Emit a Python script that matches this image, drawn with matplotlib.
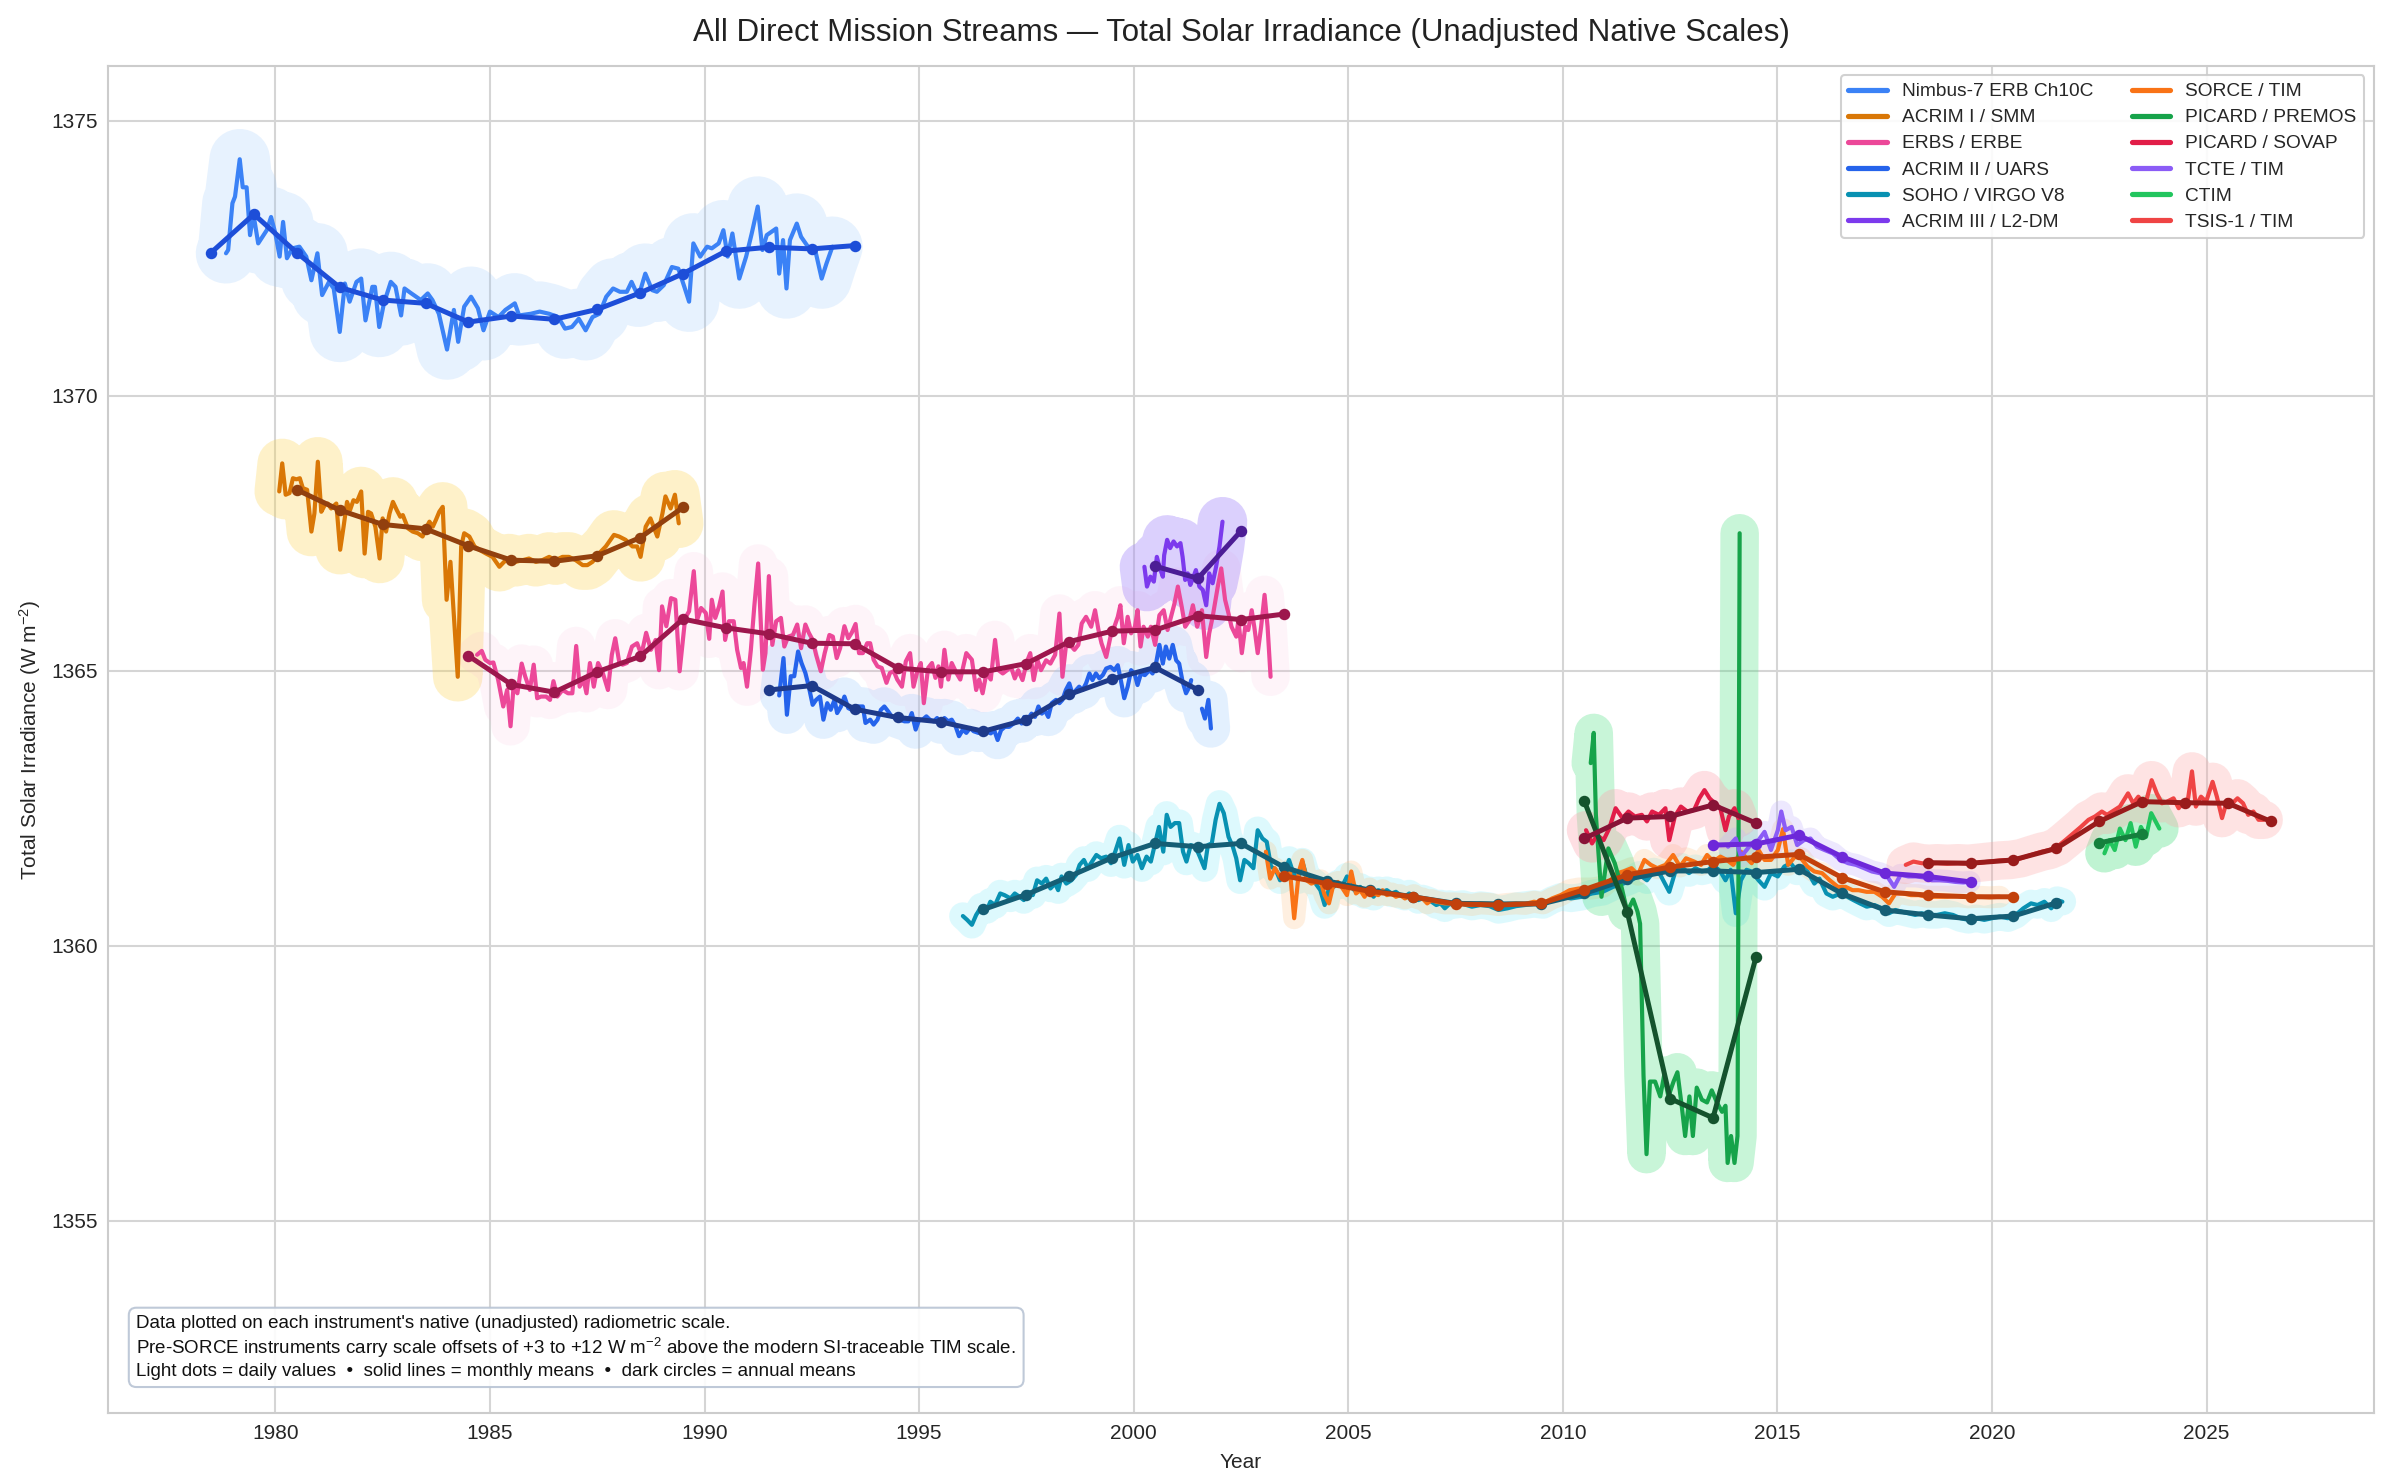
import matplotlib
matplotlib.use("Agg")
import numpy as np
import matplotlib.pyplot as plt
from matplotlib.lines import Line2D
import seaborn as sns

sns.set_style("whitegrid")
plt.rcParams['font.family'] = ['Liberation Sans', 'DejaVu Sans']
plt.rcParams['mathtext.fontset'] = 'custom'
plt.rcParams['mathtext.rm'] = 'Liberation Sans'
plt.rcParams['mathtext.it'] = 'Liberation Sans:italic'

# ---------------- data ----------------
names = ["Nimbus-7 ERB Ch10C", "ACRIM I / SMM", "ERBS / ERBE", "ACRIM II / UARS",
         "SOHO / VIRGO V8", "ACRIM III / L2-DM", "SORCE / TIM", "PICARD / PREMOS",
         "PICARD / SOVAP", "TCTE / TIM", "CTIM", "TSIS-1 / TIM"]

nimbus_m_yr = [1978.85,1978.90,1979.00,1979.06,1979.17,1979.24,1979.33,1979.41,1979.49,1979.60,
               1979.70,1979.80,1979.90,1980.00,1980.10,1980.18,1980.27,1980.40,1980.56,1980.72,
               1980.84,1980.98,1981.09,1981.25,1981.36,1981.50,1981.62,1981.73,1981.89,1982.00,
               1982.10,1982.26,1982.32,1982.42,1982.53,1982.69,1982.80,1982.93,1983.01,1983.17,
               1983.28,1983.39,1983.55,1983.66,1983.81,1984.00,1984.16,1984.26,1984.40,1984.56,
               1984.72,1984.85,1985.00,1985.20,1985.36,1985.58,1985.68,1985.95,1986.16,1986.38,
               1986.59,1986.75,1986.91,1987.07,1987.23,1987.39,1987.55,1987.71,1987.87,1988.03,
               1988.19,1988.30,1988.46,1988.62,1988.78,1988.89,1989.05,1989.24,1989.39,1989.53,
               1989.64,1989.74,1989.90,1990.06,1990.17,1990.33,1990.44,1990.54,1990.65,1990.81,
               1990.97,1991.10,1991.24,1991.35,1991.45,1991.67,1991.74,1991.83,1991.91,1991.99,
               1992.15,1992.25,1992.41,1992.57,1992.73,1992.84,1992.98]
nimbus_m_val = [1372.59,1372.65,1373.50,1373.62,1374.30,1373.79,1373.79,1372.92,1373.30,1372.77,
                1372.89,1373.01,1373.25,1372.95,1372.53,1373.16,1372.50,1372.68,1372.71,1372.53,
                1372.10,1372.59,1371.83,1372.07,1371.95,1371.16,1372.04,1371.71,1372.07,1372.13,
                1371.37,1371.98,1371.98,1371.25,1371.68,1372.07,1371.98,1371.46,1371.95,1371.86,
                1371.80,1371.74,1371.86,1371.74,1371.49,1370.84,1371.56,1370.98,1371.62,1371.80,
                1371.59,1371.19,1371.53,1371.43,1371.56,1371.68,1371.46,1371.49,1371.53,1371.49,
                1371.43,1371.22,1371.25,1371.40,1371.19,1371.43,1371.49,1371.80,1371.95,1371.89,
                1371.89,1372.07,1371.80,1372.22,1371.92,1371.89,1372.01,1372.34,1372.31,1371.98,
                1371.71,1372.77,1372.53,1372.71,1372.68,1372.77,1373.01,1372.53,1372.95,1372.13,
                1372.53,1372.95,1373.44,1372.65,1372.92,1373.04,1372.22,1372.83,1371.95,1372.83,
                1373.13,1372.89,1372.71,1372.68,1372.13,1372.40,1372.71]
nimbus_a_yr = [1978.5,1979.5,1980.5,1981.5,1982.5,1983.5,1984.5,1985.5,1986.5,1987.5,
               1988.5,1989.5,1990.5,1991.5,1992.5,1993.5]
nimbus_a_val = [1372.60,1373.30,1372.60,1371.97,1371.74,1371.68,1371.34,1371.45,1371.39,1371.57,
                1371.87,1372.22,1372.63,1372.70,1372.67,1372.73]

acrim1_m_yr = [1980.09,1980.16,1980.24,1980.33,1980.41,1980.49,1980.57,1980.64,1980.74,1980.84,
               1980.91,1980.99,1981.07,1981.15,1981.22,1981.30,1981.42,1981.51,1981.59,1981.67,
               1981.74,1981.82,1981.90,1982.00,1982.08,1982.16,1982.23,1982.33,1982.43,1982.50,
               1982.58,1982.66,1982.74,1982.83,1982.91,1982.97,1983.09,1983.20,1983.32,1983.43,
               1983.51,1983.59,1983.67,1983.74,1983.82,1983.90,1983.99,1984.08,1984.25,1984.33,
               1984.40,1984.52,1984.64,1984.75,1984.91,1985.06,1985.22,1985.33,1985.45,1985.60,
               1985.76,1985.91,1986.07,1986.22,1986.38,1986.53,1986.69,1986.84,1987.00,1987.16,
               1987.27,1987.39,1987.54,1987.70,1987.89,1988.01,1988.16,1988.32,1988.43,1988.51,
               1988.63,1988.74,1988.90,1989.02,1989.09,1989.21,1989.31,1989.40]
acrim1_m_val = [1368.26,1368.77,1368.20,1368.23,1368.50,1368.48,1368.50,1368.32,1368.29,1367.53,
                1367.86,1368.80,1367.89,1368.01,1368.04,1367.95,1368.04,1367.20,1367.62,1368.07,
                1367.92,1368.10,1368.07,1368.26,1367.13,1367.89,1367.86,1367.62,1367.04,1367.77,
                1367.53,1367.86,1368.07,1367.92,1367.80,1367.83,1367.59,1367.53,1367.50,1367.44,
                1367.59,1367.71,1367.62,1367.74,1367.89,1367.98,1366.29,1366.98,1364.89,1367.26,
                1367.50,1367.44,1367.26,1367.20,1367.13,1367.07,1366.89,1366.98,1367.04,1366.98,
                1367.01,1367.04,1366.98,1367.01,1367.07,1367.01,1367.07,1367.07,1367.01,1366.92,
                1366.92,1366.98,1367.13,1367.26,1367.47,1367.44,1367.38,1367.26,1367.26,1367.07,
                1367.62,1367.77,1367.44,1367.86,1368.17,1367.95,1368.20,1367.68]
acrim1_a_yr = [1980.5,1981.5,1982.5,1983.5,1984.5,1985.5,1986.5,1987.5,1988.5,1989.5]
acrim1_a_val = [1368.29,1367.92,1367.66,1367.58,1367.27,1367.01,1366.99,1367.09,1367.42,1367.97]

erbs_m_yr = [1984.70,1984.81,1984.89,1985.00,1985.08,1985.19,1985.31,1985.40,1985.48,1985.55,
             1985.64,1985.74,1985.82,1985.93,1986.02,1986.10,1986.19,1986.31,1986.40,1986.48,
             1986.57,1986.69,1986.82,1986.92,1987.01,1987.09,1987.18,1987.25,1987.33,1987.42,
             1987.52,1987.63,1987.75,1987.84,1987.92,1988.01,1988.09,1988.19,1988.31,1988.43,
             1988.53,1988.64,1988.75,1988.86,1988.94,1989.01,1989.11,1989.22,1989.32,1989.42,
             1989.55,1989.64,1989.75,1989.83,1989.92,1990.03,1990.11,1990.17,1990.25,1990.34,
             1990.42,1990.48,1990.57,1990.68,1990.76,1990.85,1990.91,1990.99,1991.08,1991.16,
             1991.25,1991.36,1991.42,1991.50,1991.58,1991.67,1991.78,1991.86,1991.95,1992.06,
             1992.16,1992.25,1992.35,1992.43,1992.52,1992.60,1992.71,1992.80,1992.91,1992.99,
             1993.08,1993.16,1993.26,1993.35,1993.43,1993.52,1993.60,1993.69,1993.79,1993.86,
             1993.94,1994.03,1994.13,1994.24,1994.32,1994.41,1994.49,1994.60,1994.69,1994.79,
             1994.87,1994.96,1995.04,1995.11,1995.21,1995.30,1995.38,1995.45,1995.51,1995.59,
             1995.68,1995.76,1995.87,1995.96,1996.10,1996.23,1996.33,1996.40,1996.48,1996.57,
             1996.67,1996.77,1996.85,1996.95,1997.05,1997.14,1997.23,1997.31,1997.41,1997.51,
             1997.59,1997.67,1997.76,1997.84,1997.96,1998.06,1998.17,1998.27,1998.34,1998.42,
             1998.52,1998.62,1998.71,1998.79,1998.89,1999.01,1999.10,1999.18,1999.25,1999.36,
             1999.46,1999.55,1999.63,1999.69,1999.77,1999.86,1999.94,2000.03,2000.09,2000.16,
             2000.23,2000.33,2000.40,2000.50,2000.60,2000.70,2000.79,2000.87,2000.95,2001.03,
             2001.12,2001.20,2001.30,2001.38,2001.48,2001.59,2001.69,2001.76,2001.84,2001.96,
             2002.04,2002.13,2002.21,2002.28,2002.39,2002.44,2002.52,2002.60,2002.67,2002.75,
             2002.81,2002.89,2002.97,2003.05,2003.12,2003.19]
erbs_m_val = [1365.29,1365.36,1365.20,1365.14,1365.15,1364.84,1364.35,1364.65,1363.99,1364.71,
              1364.59,1365.13,1364.90,1364.65,1365.11,1364.50,1364.53,1364.53,1364.47,1364.81,
              1364.53,1364.65,1364.59,1364.59,1365.45,1364.71,1364.84,1364.59,1365.14,1364.71,
              1365.14,1364.96,1364.65,1365.29,1365.59,1365.17,1365.11,1365.14,1365.44,1365.50,
              1365.29,1365.69,1365.38,1365.56,1365.01,1366.17,1365.81,1366.32,1366.29,1364.99,
              1365.96,1366.08,1366.81,1365.93,1366.14,1366.05,1365.58,1366.29,1365.96,1366.17,
              1366.44,1365.56,1365.90,1365.90,1365.38,1365.05,1365.14,1364.71,1365.38,1366.17,
              1366.95,1365.02,1365.32,1366.72,1365.47,1365.90,1365.96,1365.44,1365.62,1365.65,
              1365.84,1365.41,1365.84,1365.69,1365.56,1365.29,1364.99,1365.32,1365.65,1365.62,
              1365.23,1365.41,1365.81,1365.59,1365.69,1365.85,1365.32,1365.32,1365.50,1365.50,
              1365.20,1365.08,1365.05,1364.78,1364.96,1364.99,1364.84,1364.71,1365.17,1365.32,
              1364.71,1364.99,1365.14,1364.41,1365.05,1365.14,1364.87,1365.08,1364.71,1365.38,
              1364.84,1365.14,1364.96,1364.84,1365.32,1365.20,1364.65,1364.84,1364.59,1364.96,
              1364.84,1365.56,1365.01,1364.95,1365.01,1365.07,1364.86,1365.01,1364.83,1365.16,
              1365.32,1364.83,1365.19,1365.01,1365.19,1365.13,1365.29,1366.04,1364.89,1365.44,
              1365.47,1365.38,1365.47,1365.86,1365.98,1365.80,1366.10,1365.74,1365.50,1365.25,
              1365.62,1365.80,1365.98,1366.19,1365.50,1365.98,1365.68,1365.80,1366.10,1365.44,
              1365.80,1365.62,1365.80,1365.47,1366.01,1366.10,1365.74,1365.98,1366.22,1366.53,
              1366.16,1365.80,1365.92,1366.19,1365.80,1366.10,1365.25,1365.68,1365.98,1366.53,
              1366.86,1366.29,1366.04,1365.80,1365.62,1365.92,1365.32,1365.80,1365.74,1366.10,
              1365.80,1365.32,1365.80,1366.38,1365.80,1364.89]
erbs_a_yr = [1984.5,1985.5,1986.5,1987.5,1988.5,1989.5,1990.5,1991.5,1992.5,1993.5,
             1994.5,1995.5,1996.5,1997.5,1998.5,1999.5,2000.5,2001.5,2002.5,2003.5]
erbs_a_val = [1365.27,1364.75,1364.61,1364.98,1365.26,1365.94,1365.78,1365.67,1365.50,1365.49,
              1365.05,1364.98,1364.98,1365.13,1365.53,1365.72,1365.74,1366.00,1365.93,1366.03]

acrim2_m_yr = [1991.74,1991.84,1991.92,1992.01,1992.09,1992.18,1992.26,1992.35,1992.43,1992.52,
               1992.60,1992.69,1992.77,1992.86,1992.94,1993.03,1993.09,1993.18,1993.26,1993.35,
               1993.43,1993.52,1993.60,1993.69,1993.75,1993.86,1993.94,1994.03,1994.11,1994.19,
               1994.28,1994.36,1994.45,1994.55,1994.66,1994.75,1994.83,1994.92,1995.00,1995.08,
               1995.17,1995.25,1995.34,1995.42,1995.51,1995.59,1995.68,1995.76,1995.85,1995.93,
               1996.02,1996.10,1996.19,1996.27,1996.38,1996.48,1996.57,1996.67,1996.75,1996.83,
               1996.91,1997.00,1997.10,1997.20,1997.30,1997.39,1997.45,1997.54,1997.62,1997.70,
               1997.78,1997.86,1997.93,1998.01,1998.09,1998.19,1998.27,1998.34,1998.42,1998.50,
               1998.58,1998.66,1998.73,1998.81,1998.89,1998.97,1999.04,1999.12,1999.20,1999.28,
               1999.36,1999.46,1999.55,1999.63,1999.70,1999.78,1999.86,1999.94,2000.02,2000.09,
               2000.17,2000.26,2000.37,2000.44,2000.52,2000.60,2000.68,2000.75,2000.83,2000.91,
               2000.99,2001.06,2001.14,2001.22,2001.30,2001.34,2001.45,2001.59,2001.66,2001.74,
               2001.80]
acrim2_m_val = [1364.55,1365.23,1364.20,1364.90,1364.90,1365.35,1365.14,1364.96,1364.71,1364.38,
                1364.47,1364.53,1364.11,1364.41,1364.29,1364.47,1364.23,1364.35,1364.53,1364.32,
                1364.29,1364.35,1364.35,1364.35,1364.05,1364.11,1364.02,1364.11,1364.29,1364.35,
                1364.26,1364.17,1364.14,1364.11,1364.08,1364.08,1364.23,1363.93,1364.11,1364.11,
                1364.17,1364.11,1364.08,1364.14,1364.02,1364.14,1364.08,1364.11,1363.99,1363.81,
                1363.93,1363.87,1363.96,1363.90,1363.87,1363.90,1363.90,1363.86,1363.92,1363.74,
                1363.92,1363.98,1363.98,1364.04,1364.13,1364.04,1364.16,1364.13,1364.22,1364.16,
                1364.35,1364.22,1364.28,1364.16,1364.41,1364.47,1364.41,1364.47,1364.65,1364.77,
                1364.56,1364.65,1364.71,1364.65,1364.77,1364.95,1364.83,1364.95,1364.86,1364.92,
                1365.04,1365.07,1365.01,1365.10,1364.83,1364.50,1364.71,1365.01,1364.95,1364.74,
                1364.95,1364.92,1365.01,1364.95,1365.13,1365.47,1365.13,1365.44,1365.22,1365.47,
                1365.19,1365.13,1364.80,1364.59,1364.71,1364.83,np.nan,1364.31,1364.13,1364.47,
                1363.95]
acrim2_a_yr = [1991.5,1992.5,1993.5,1994.5,1995.5,1996.5,1997.5,1998.5,1999.5,2000.5,2001.5]
acrim2_a_val = [1364.65,1364.73,1364.30,1364.15,1364.07,1363.90,1364.11,1364.57,1364.85,1365.06,1364.65]

soho_m_yr = [1996.02,1996.12,1996.23,1996.33,1996.45,1996.58,1996.66,1996.77,1996.89,1996.99,
             1997.13,1997.23,1997.34,1997.44,1997.54,1997.65,1997.75,1997.86,1997.96,1998.06,
             1998.17,1998.24,1998.32,1998.43,1998.55,1998.66,1998.74,1998.84,1998.93,1999.03,
             1999.13,1999.24,1999.36,1999.47,1999.57,1999.67,1999.78,1999.88,1999.98,2000.09,
             2000.19,2000.30,2000.40,2000.50,2000.59,2000.69,2000.77,2000.86,2000.96,2001.06,
             2001.15,2001.23,2001.33,2001.44,2001.54,2001.65,2001.73,2001.82,2001.91,2002.00,
             2002.10,2002.21,2002.31,2002.39,2002.48,2002.58,2002.68,2002.79,2002.89,2003.00,
             2003.10,2003.20,2003.31,2003.41,2003.52,2003.62,2003.72,2003.83,2003.93,2004.03,
             2004.14,2004.24,2004.35,2004.45,2004.55,2004.66,2004.76,2004.87,2004.97,2005.07,
             2005.18,2005.28,2005.38,2005.49,2005.59,2005.70,2005.80,2005.90,2006.01,2006.11,
             2006.21,2006.32,2006.42,2006.53,2006.63,2006.73,2006.84,2006.94,2007.05,2007.15,
             2007.25,2007.36,2007.46,2007.67,2007.88,2008.08,2008.29,2008.50,2008.71,2008.91,
             2009.12,2009.33,2009.54,2009.75,2009.95,2010.19,2010.44,2010.68,2010.93,2011.17,
             2011.41,2011.60,2011.78,2011.96,2012.12,2012.27,2012.48,2012.61,2012.75,2012.94,
             2013.09,2013.24,2013.39,2013.51,2013.67,2013.79,2013.91,2014.03,2014.15,2014.28,
             2014.40,2014.56,2014.70,2014.85,2015.01,2015.16,2015.31,2015.46,2015.58,2015.70,
             2015.86,2015.98,2016.14,2016.29,2016.47,2016.63,2016.77,2016.92,2017.08,2017.26,
             2017.44,2017.60,2017.75,2017.89,2018.05,2018.21,2018.36,2018.54,2018.72,2018.90,
             2019.09,2019.27,2019.45,2019.63,2019.82,2020.00,2020.18,2020.37,2020.55,2020.73,
             2020.91,2021.06,2021.22,2021.38,2021.52,2021.64]
soho_m_val = [1360.54,1360.47,1360.38,1360.56,1360.71,1360.65,1360.80,1360.74,1360.95,1360.92,
              1360.86,1360.95,1360.89,1360.83,1360.98,1360.92,1361.19,1361.13,1361.22,1361.04,
              1361.13,1361.01,1361.26,1361.13,1361.19,1361.29,1361.47,1361.56,1361.41,1361.53,
              1361.65,1361.59,1361.62,1361.50,1361.71,1361.95,1361.47,1361.83,1361.53,1361.65,
              1361.41,1361.62,1361.53,1361.86,1362.16,1361.71,1362.38,1362.16,1362.23,1362.23,
              1361.71,1361.53,1361.83,1361.80,1361.62,1361.41,1361.83,1361.86,1362.29,1362.58,
              1362.41,1361.98,1361.80,1361.59,1361.19,1361.56,1361.50,1361.41,1362.10,1361.95,
              1361.89,1361.44,1361.38,1361.19,1361.35,1361.56,1361.32,1361.19,1361.53,1361.26,
              1361.19,1361.13,1361.01,1360.74,1361.04,1361.07,1361.13,1361.10,1361.26,1361.07,
              1360.98,1361.07,1360.92,1361.01,1360.89,1361.01,1360.98,1361.01,1360.95,1360.98,
              1360.92,1360.89,1360.95,1360.89,1360.83,1360.86,1360.83,1360.80,1360.74,1360.77,
              1360.68,1360.76,1360.74,1360.76,1360.71,1360.74,1360.72,1360.65,1360.68,1360.72,
              1360.74,1360.76,1360.74,1360.83,1360.89,1360.86,1360.89,1360.95,1360.98,1361.07,
              1361.13,1361.19,1361.29,1361.19,1361.35,1361.29,1360.98,1361.32,1361.44,1361.32,
              1361.41,1361.35,1361.38,1361.47,1361.35,1361.19,1361.38,1360.59,1361.19,1361.38,
              1361.35,1361.19,1361.07,1361.32,1361.26,1361.44,1361.50,1361.35,1361.44,1361.35,
              1361.13,1361.22,1360.95,1360.89,1360.95,1360.89,1360.83,1360.77,1360.71,1360.74,
              1360.68,1360.59,1360.65,1360.62,1360.59,1360.56,1360.59,1360.56,1360.56,1360.59,
              1360.56,1360.50,1360.47,1360.50,1360.47,1360.50,1360.53,1360.50,1360.56,1360.68,
              1360.77,1360.74,1360.80,1360.68,1360.83,1360.80]
soho_a_yr = [1996.5,1997.5,1998.5,1999.5,2000.5,2001.5,2002.5,2003.5,2004.5,2005.5,
             2006.5,2007.5,2008.5,2009.5,2010.5,2011.5,2012.5,2013.5,2014.5,2015.5,
             2016.5,2017.5,2018.5,2019.5,2020.5,2021.5]
soho_a_val = [1360.66,1360.93,1361.26,1361.60,1361.86,1361.80,1361.86,1361.43,1361.18,1361.01,
              1360.89,1360.77,1360.76,1360.76,1360.95,1361.21,1361.36,1361.36,1361.33,1361.39,
              1360.95,1360.65,1360.56,1360.49,1360.54,1360.78]

acrim3_m_yr = [2000.25,2000.31,2000.39,2000.47,2000.54,2000.60,2000.68,2000.71,2000.78,2000.85,
               2000.93,2001.01,2001.09,2001.14,2001.20,2001.26,2001.32,2001.38,2001.45,2001.53,
               2001.61,2001.69,2001.76,2001.84,2001.92,2002.00,2002.07]
acrim3_m_val = [1366.89,1366.53,1366.71,1366.62,1367.07,1366.89,1366.71,1367.10,1367.38,1367.23,
                1367.35,1367.26,1367.32,1367.07,1366.65,1366.77,1366.56,1366.68,1366.83,1366.53,
                1366.47,1366.19,1366.77,1366.59,1366.89,1367.26,1367.71]
acrim3_a_yr = [2000.5,2001.5,2002.5]
acrim3_a_val = [1366.90,1366.68,1367.54]

sorce_m_yr = [2003.08,2003.18,2003.29,2003.41,2003.52,2003.64,2003.74,2003.85,2003.93,2004.03,
              2004.14,2004.24,2004.35,2004.45,2004.55,2004.66,2004.76,2004.87,2004.97,2005.07,
              2005.18,2005.28,2005.38,2005.49,2005.59,2005.70,2005.80,2005.90,2006.01,2006.11,
              2006.21,2006.32,2006.42,2006.53,2006.63,2006.73,2006.84,2006.94,2007.05,2007.25,
              2007.46,2007.67,2007.88,2008.08,2008.29,2008.50,2008.71,2008.91,2009.12,2009.33,
              2009.54,2009.75,2009.95,2010.16,2010.37,2010.68,2010.93,2011.11,2011.27,2011.41,
              2011.60,2011.75,2011.90,2012.05,2012.20,2012.39,2012.57,2012.73,2012.87,2013.06,
              2013.22,2013.36,2013.51,2013.67,2013.82,2013.97,2014.15,2014.28,2014.40,2014.56,
              2014.70,2014.85,2015.01,2015.13,2015.25,2015.41,2015.55,2015.70,2015.86,2016.04,
              2016.22,2016.41,2016.59,2016.75,2016.89,2017.08,2017.26,2017.44,2017.60,2017.75,
              2017.93,2018.11,2018.29,2018.48,2018.72,2018.96,2019.21,2019.45,2019.70,2019.94,
              2020.18]
sorce_m_val = [1361.71,1361.22,1361.41,1361.26,1361.29,1361.38,1360.50,1361.35,1361.56,1361.19,
               1361.13,1361.16,1361.19,1360.92,1360.77,1361.13,1361.16,1361.04,1360.92,1361.35,
               1360.95,1361.01,1360.89,1361.04,1360.95,1360.92,1361.01,1360.92,1360.95,1360.89,
               1360.92,1360.86,1360.89,1360.92,1360.86,1360.86,1360.77,1360.83,1360.80,1360.77,
               1360.77,1360.76,1360.74,1360.77,1360.76,1360.74,1360.76,1360.77,1360.76,1360.80,
               1360.77,1360.86,1360.92,1361.01,1361.04,1361.04,1361.07,1361.19,1361.32,1361.35,
               1361.41,1361.29,1361.56,1361.47,1361.41,1361.47,1361.65,1361.44,1361.59,1361.53,
               1361.47,1361.65,1361.53,1361.62,1361.56,1361.47,1361.71,1361.59,1361.50,1361.74,
               1361.56,1361.56,1361.74,1362.12,1361.47,1361.62,1361.59,1361.44,1361.35,1361.32,
               1361.19,1361.07,1361.07,1361.01,1361.01,1360.98,1360.98,1360.89,1360.77,1360.95,
               1360.95,1360.92,1360.92,1360.89,1360.89,1360.89,1360.90,1360.88,1360.89,1360.88,
               1360.89]
sorce_a_yr = [2003.5,2004.5,2005.5,2006.5,2007.5,2008.5,2009.5,2010.5,2011.5,2012.5,
              2013.5,2014.5,2015.5,2016.5,2017.5,2018.5,2019.5,2020.5]
sorce_a_val = [1361.27,1361.13,1360.99,1360.89,1360.76,1360.74,1360.77,1361.02,1361.29,1361.43,
               1361.53,1361.61,1361.66,1361.24,1360.98,1360.92,1360.89,1360.89]

premos_m_yr = [2010.65,2010.72,2010.77,2010.90,2011.06,2011.21,2011.37,2011.50,2011.64,2011.74,
               2011.80,2011.88,2011.95,2012.03,2012.15,2012.27,2012.36,2012.46,2012.58,2012.67,
               2012.77,2012.85,2012.95,2013.03,2013.12,2013.24,2013.36,2013.47,2013.59,2013.71,
               2013.79,2013.84,2013.92,2014.00,2014.07,2014.12]
premos_m_val = [1363.32,1363.87,1362.38,1360.89,1361.77,1361.50,1361.06,1360.62,1360.84,1360.62,
                1360.40,1357.64,1356.21,1357.53,1357.53,1357.26,1357.64,1357.26,1357.53,1357.70,
                1357.09,1356.54,1357.26,1356.54,1357.42,1357.20,1357.15,1357.37,1357.15,1356.98,
                1357.09,1356.05,1356.54,1356.05,1356.54,1367.50]
premos_a_yr = [2010.5,2011.5,2012.5,2013.5,2014.5]
premos_a_val = [1362.63,1360.62,1357.22,1356.87,1359.79]

sovap_m_yr = [2010.54,2010.68,2010.80,2010.95,2011.08,2011.23,2011.39,2011.53,2011.68,2011.84,
              2011.96,2012.08,2012.24,2012.39,2012.48,2012.61,2012.75,2012.90,2013.06,2013.18,
              2013.30,2013.42,2013.54,2013.67,2013.79,2013.87,2014.00,2014.09]
sovap_m_val = [1362.10,1361.86,1362.01,1361.92,1362.13,1362.50,1362.32,1362.44,1362.35,1362.38,
               1362.26,1362.44,1362.38,1362.50,1361.92,1362.35,1362.53,1362.44,1362.47,1362.68,
               1362.83,1362.68,1362.59,1362.50,1362.10,1362.35,1362.50,1362.32]
sovap_a_yr = [2010.5,2011.5,2012.5,2013.5,2014.5]
sovap_a_val = [1361.95,1362.32,1362.35,1362.56,1362.23]

tcte_m_yr = [2013.85,2014.03,2014.15,2014.28,2014.40,2014.56,2014.70,2014.85,2015.01,2015.09,
             2015.19,2015.33,2015.46,2015.62,2015.77,2015.92,2016.10,2016.29,2016.47,2016.65,
             2016.83,2017.02,2017.20,2017.38,2017.56,2017.72,2017.87,2018.05,2018.23,2018.42,
             2018.60,2018.78,2018.96,2019.15,2019.33,2019.48]
tcte_m_val = [1361.80,1361.95,1361.62,1361.74,1361.86,1361.92,1362.07,1361.74,1362.10,1362.44,
              1362.10,1362.16,1361.83,1361.92,1361.95,1361.80,1361.74,1361.68,1361.56,1361.50,
              1361.47,1361.41,1361.35,1361.32,1361.26,1361.07,1361.29,1361.26,1361.26,1361.24,
              1361.19,1361.19,1361.18,1361.16,1361.15,1361.16]
tcte_a_yr = [2013.5,2014.5,2015.5,2016.5,2017.5,2018.5,2019.5]
tcte_a_val = [1361.83,1361.85,1362.01,1361.62,1361.32,1361.26,1361.16]

ctim_m_yr = [2022.62,2022.74,2022.86,2022.98,2023.11,2023.23,2023.35,2023.47,2023.59,2023.71,2023.90]
ctim_m_val = [1361.68,1361.92,1361.74,1362.13,1361.92,1362.23,1361.80,1362.16,1361.98,1362.41,1362.13]
ctim_a_yr = [2022.5,2023.5]
ctim_a_val = [1361.87,1362.03]

tsis_m_yr = [2017.99,2018.17,2018.36,2018.54,2018.72,2018.96,2019.21,2019.45,2019.70,2019.94,
             2020.18,2020.43,2020.67,2020.91,2021.16,2021.34,2021.52,2021.71,2021.89,2022.07,
             2022.25,2022.40,2022.56,2022.68,2022.80,2022.98,2023.17,2023.29,2023.41,2023.57,
             2023.72,2023.84,2023.96,2024.08,2024.23,2024.35,2024.47,2024.57,2024.66,2024.75,
             2024.87,2024.99,2025.14,2025.24,2025.36,2025.48,2025.60,2025.72,2025.85,2025.97,
             2026.09,2026.21,2026.33]
tsis_m_val = [1361.47,1361.53,1361.50,1361.49,1361.50,1361.49,1361.50,1361.49,1361.51,1361.53,
              1361.55,1361.56,1361.59,1361.65,1361.71,1361.74,1361.80,1361.92,1362.04,1362.16,
              1362.29,1362.35,1362.44,1362.38,1362.44,1362.53,1362.77,1362.59,1362.71,1362.56,
              1363.01,1362.77,1362.59,1362.62,1362.68,1362.50,1362.62,1362.68,1363.17,1362.53,
              1362.71,1362.62,1362.98,1362.71,1362.32,1362.65,1362.59,1362.68,1362.59,1362.38,
              1362.44,1362.29,1362.29]
tsis_a_yr = [2018.5,2019.5,2020.5,2021.5,2022.5,2023.5,2024.5,2025.5,2026.5]
tsis_a_val = [1361.51,1361.50,1361.56,1361.77,1362.26,1362.62,1362.60,1362.59,1362.26]

monthly_yr = [nimbus_m_yr, acrim1_m_yr, erbs_m_yr, acrim2_m_yr, soho_m_yr, acrim3_m_yr,
              sorce_m_yr, premos_m_yr, sovap_m_yr, tcte_m_yr, ctim_m_yr, tsis_m_yr]
monthly_val = [nimbus_m_val, acrim1_m_val, erbs_m_val, acrim2_m_val, soho_m_val, acrim3_m_val,
               sorce_m_val, premos_m_val, sovap_m_val, tcte_m_val, ctim_m_val, tsis_m_val]
annual_yr = [nimbus_a_yr, acrim1_a_yr, erbs_a_yr, acrim2_a_yr, soho_a_yr, acrim3_a_yr,
             sorce_a_yr, premos_a_yr, sovap_a_yr, tcte_a_yr, ctim_a_yr, tsis_a_yr]
annual_val = [nimbus_a_val, acrim1_a_val, erbs_a_val, acrim2_a_val, soho_a_val, acrim3_a_val,
              sorce_a_val, premos_a_val, sovap_a_val, tcte_a_val, ctim_a_val, tsis_a_val]

# ---------------- styles ----------------
light = ["#93c5fd", "#fcd34d", "#f9a8d4", "#93c5fd", "#67e8f9", "#a78bfa",
         "#fdba74", "#4ade80", "#fda4af", "#c4b5fd", "#4ade80", "#fca5a5"]
mid = ["#3b82f6", "#d97706", "#ec4899", "#2563eb", "#0891b2", "#7c3aed",
       "#f97316", "#16a34a", "#e11d48", "#8b5cf6", "#22c55e", "#ef4444"]
dark = ["#1d4ed8", "#92400e", "#9d174d", "#1e3a8a", "#155e75", "#4c1d95",
        "#c2410c", "#14532d", "#881337", "#6d28d9", "#15803d", "#991b1b"]
band_half = [0.55, 0.45, 0.35, 0.35, 0.25, 0.45, 0.2, 0.35, 0.35, 0.2, 0.35, 0.35]
band_alpha = [0.22, 0.3, 0.12, 0.25, 0.22, 0.4, 0.22, 0.3, 0.35, 0.3, 0.35, 0.3]

W, H, DPI = 2389, 1484, 150
fig = plt.figure(figsize=(W / DPI, H / DPI), dpi=DPI)
ax = fig.add_axes([0.0452, 0.0477, 0.9937 - 0.0452, 0.9557 - 0.0477])
ax.set_xlim(1976.1, 2028.9)
ax.set_ylim(1351.5, 1376.0)

# points per data unit (vertical) for the light daily-spread bands
p0 = ax.transData.transform((2000, 1360))
p1 = ax.transData.transform((2000, 1361))
pt_per_unit = (p1[1] - p0[1]) * 72.0 / DPI

handles = []
for i, nm in enumerate(names):
    myr, mval = monthly_yr[i], monthly_val[i]
    ayr, aval = annual_yr[i], annual_val[i]
    ax.plot(myr, mval, color=light[i], lw=2 * band_half[i] * pt_per_unit,
            alpha=band_alpha[i], solid_joinstyle='round', solid_capstyle='round', zorder=1)
    ax.plot(myr, mval, color=mid[i], lw=2.0, zorder=2 + i * 0.01)
    ax.plot(ayr, aval, '-o', color=dark[i], lw=2.4, ms=4.5, zorder=3 + i * 0.01)
    handles.append(Line2D([0], [0], color=mid[i], lw=2.5, label=nm))

ax.set_xticks([1980, 1985, 1990, 1995, 2000, 2005, 2010, 2015, 2020, 2025])
ax.set_yticks([1355, 1360, 1365, 1370, 1375])
ax.tick_params(labelsize=10, colors='#262626', length=0, pad=5)
ax.grid(True, color='#d5d5d5', lw=1.0)
for s in ax.spines.values():
    s.set_color('#cccccc')
    s.set_linewidth(1.0)

ax.set_xlabel("Year", fontsize=10, color='#262626', labelpad=5)
ax.set_ylabel("Total Solar Irradiance (W m$^{-2}$)", fontsize=10, color='#262626', labelpad=4)
ax.set_title("All Direct Mission Streams \u2014 Total Solar Irradiance (Unadjusted Native Scales)",
             fontsize=15, color='#222222', pad=12)

leg = ax.legend(handles=handles, loc='upper right', ncol=2, fontsize=9.2, frameon=True,
                fancybox=True, framealpha=0.9, edgecolor='#cccccc', labelspacing=0.45,
                borderaxespad=0.5)

note = ("Data plotted on each instrument's native (unadjusted) radiometric scale.\n"
        "Pre-SORCE instruments carry scale offsets of +3 to +12 W m$^{-2}$ above the modern SI-traceable TIM scale.\n"
        "Light dots = daily values  \u2022  solid lines = monthly means  \u2022  dark circles = annual means")
ax.text(0.0125, 0.025, note, transform=ax.transAxes, fontsize=9, color='#111111',
        va='bottom', ha='left', zorder=10,
        bbox=dict(boxstyle='round,pad=0.4', facecolor='white', edgecolor='#b8c4d4',
                  alpha=0.9, lw=1.0))

fig.savefig("out.png", dpi=DPI)
